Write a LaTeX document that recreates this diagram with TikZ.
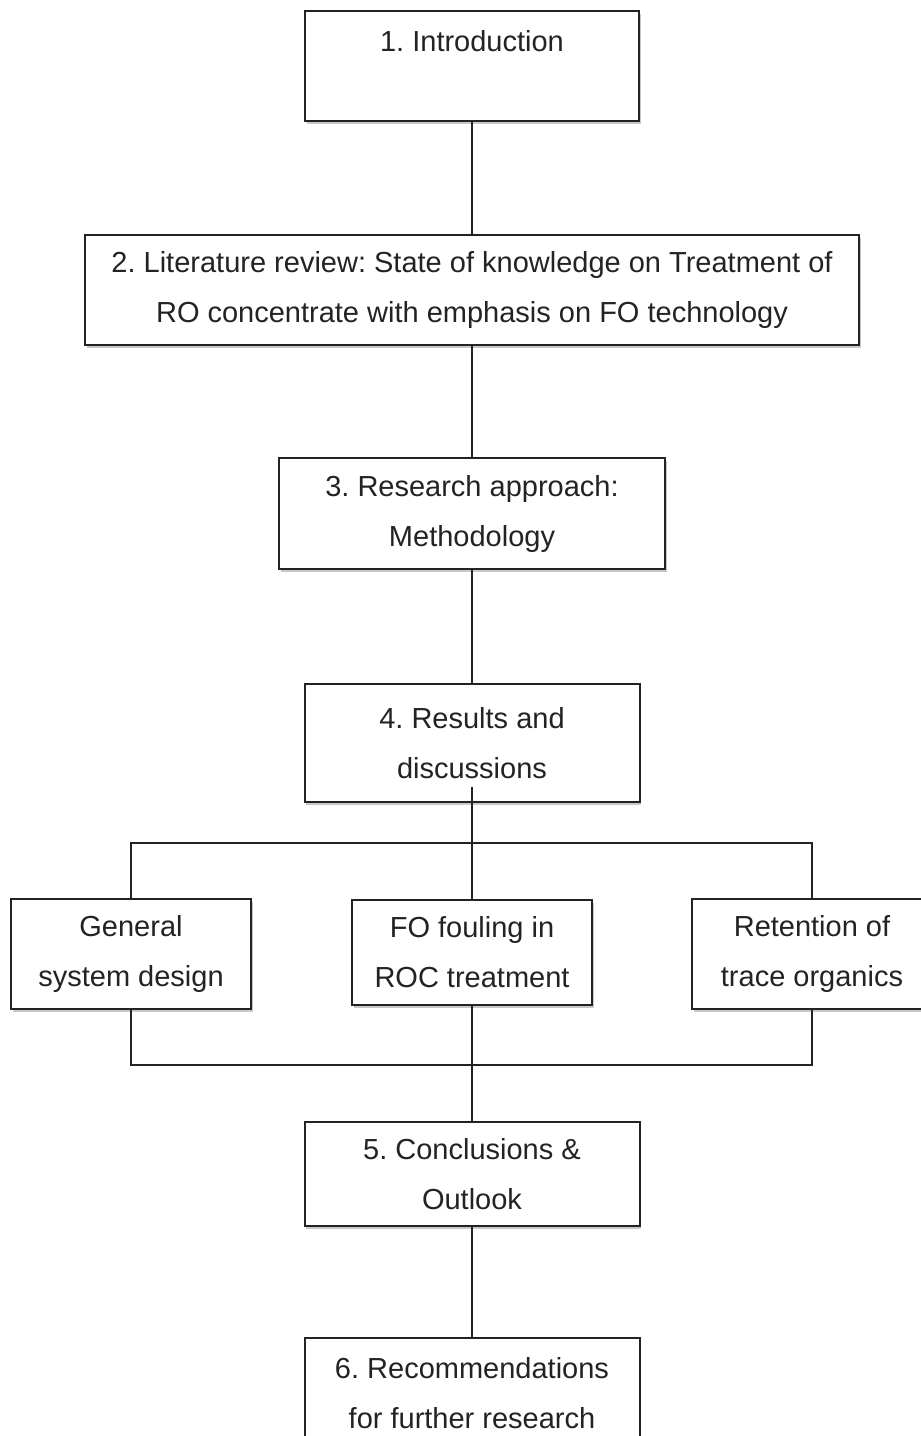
\documentclass[tikz,border=0pt]{standalone}
\usepackage{fontspec}
\setmainfont{Liberation Sans}
\usepackage{xcolor}
\usetikzlibrary{positioning,shadows}
\definecolor{boxline}{RGB}{35, 35, 35}
\definecolor{shadowgray}{RGB}{200, 200, 200}
\frenchspacing
\begin{document}
\begin{tikzpicture}[x=0.5pt, y=-0.5pt,
  chapbox/.style={draw=boxline, line width=1pt, fill=white, text=boxline,
    align=center, inner sep=0pt, font=\fontsize{14.5}{25}\selectfont,
    drop shadow={shadow xshift=0.8pt, shadow yshift=-1.5pt, fill=shadowgray, opacity=1}},
  link/.style={draw=boxline, line width=0.9pt}]
  \clip (0, 0) rectangle (921, 1436);
  % main chain - chapters 1 to 4
  \node[chapbox, minimum width=167pt, minimum height=55pt] (intro) at (472, 66) {1. Introduction\\ \mbox{}};
  \node[chapbox, minimum width=387pt, minimum height=55pt] (lit) at (472, 290)
    {2. Literature review: State of knowledge on Treatment of\\ RO concentrate with emphasis on FO technology};
  \node[chapbox, minimum width=193pt, minimum height=55.5pt] (meth) at (472, 513.5) {3. Research approach:\\ Methodology};
  \node[chapbox, minimum width=167.5pt, minimum height=59pt] (res) at (472, 743) {4. Results and\\ discussions};
  % result topics - three side by side
  \node[chapbox, minimum width=120pt, minimum height=55pt] (gen) at (131, 954) {General\\ system design};
  \node[chapbox, minimum width=120pt, minimum height=52.5pt] (fo) at (472, 952.5) {FO fouling in\\ ROC treatment};
  \node[chapbox, minimum width=120pt, minimum height=55pt] (ret) at (812, 954) {Retention of\\ trace organics};
  % closing chapters 5 and 6
  \node[chapbox, minimum width=167.5pt, minimum height=52pt] (concl) at (472, 1174) {5. Conclusions \&\\ Outlook};
  \node[chapbox, minimum width=167.5pt, minimum height=55pt] (rec) at (472, 1393) {6. Recommendations\\ for further research};
  % connectors
  \coordinate (topbus) at (472, 843);
  \coordinate (botbus) at (472, 1065);
  \draw[link] (intro.south) -- (lit.north);
  \draw[link] (lit.south) -- (meth.north);
  \draw[link] (meth.south) -- (res.north);
  \draw[link] ([yshift=8pt]res.south) -- (fo.north);
  \draw[link] (gen.north) -- (gen.north |- topbus) -- (ret.north |- topbus) -- (ret.north);
  \draw[link] (gen.south) -- (gen.south |- botbus) -- (ret.south |- botbus) -- (ret.south);
  \draw[link] (fo.south) -- (concl.north);
  \draw[link] (concl.south) -- (rec.north);
\end{tikzpicture}
\end{document}
